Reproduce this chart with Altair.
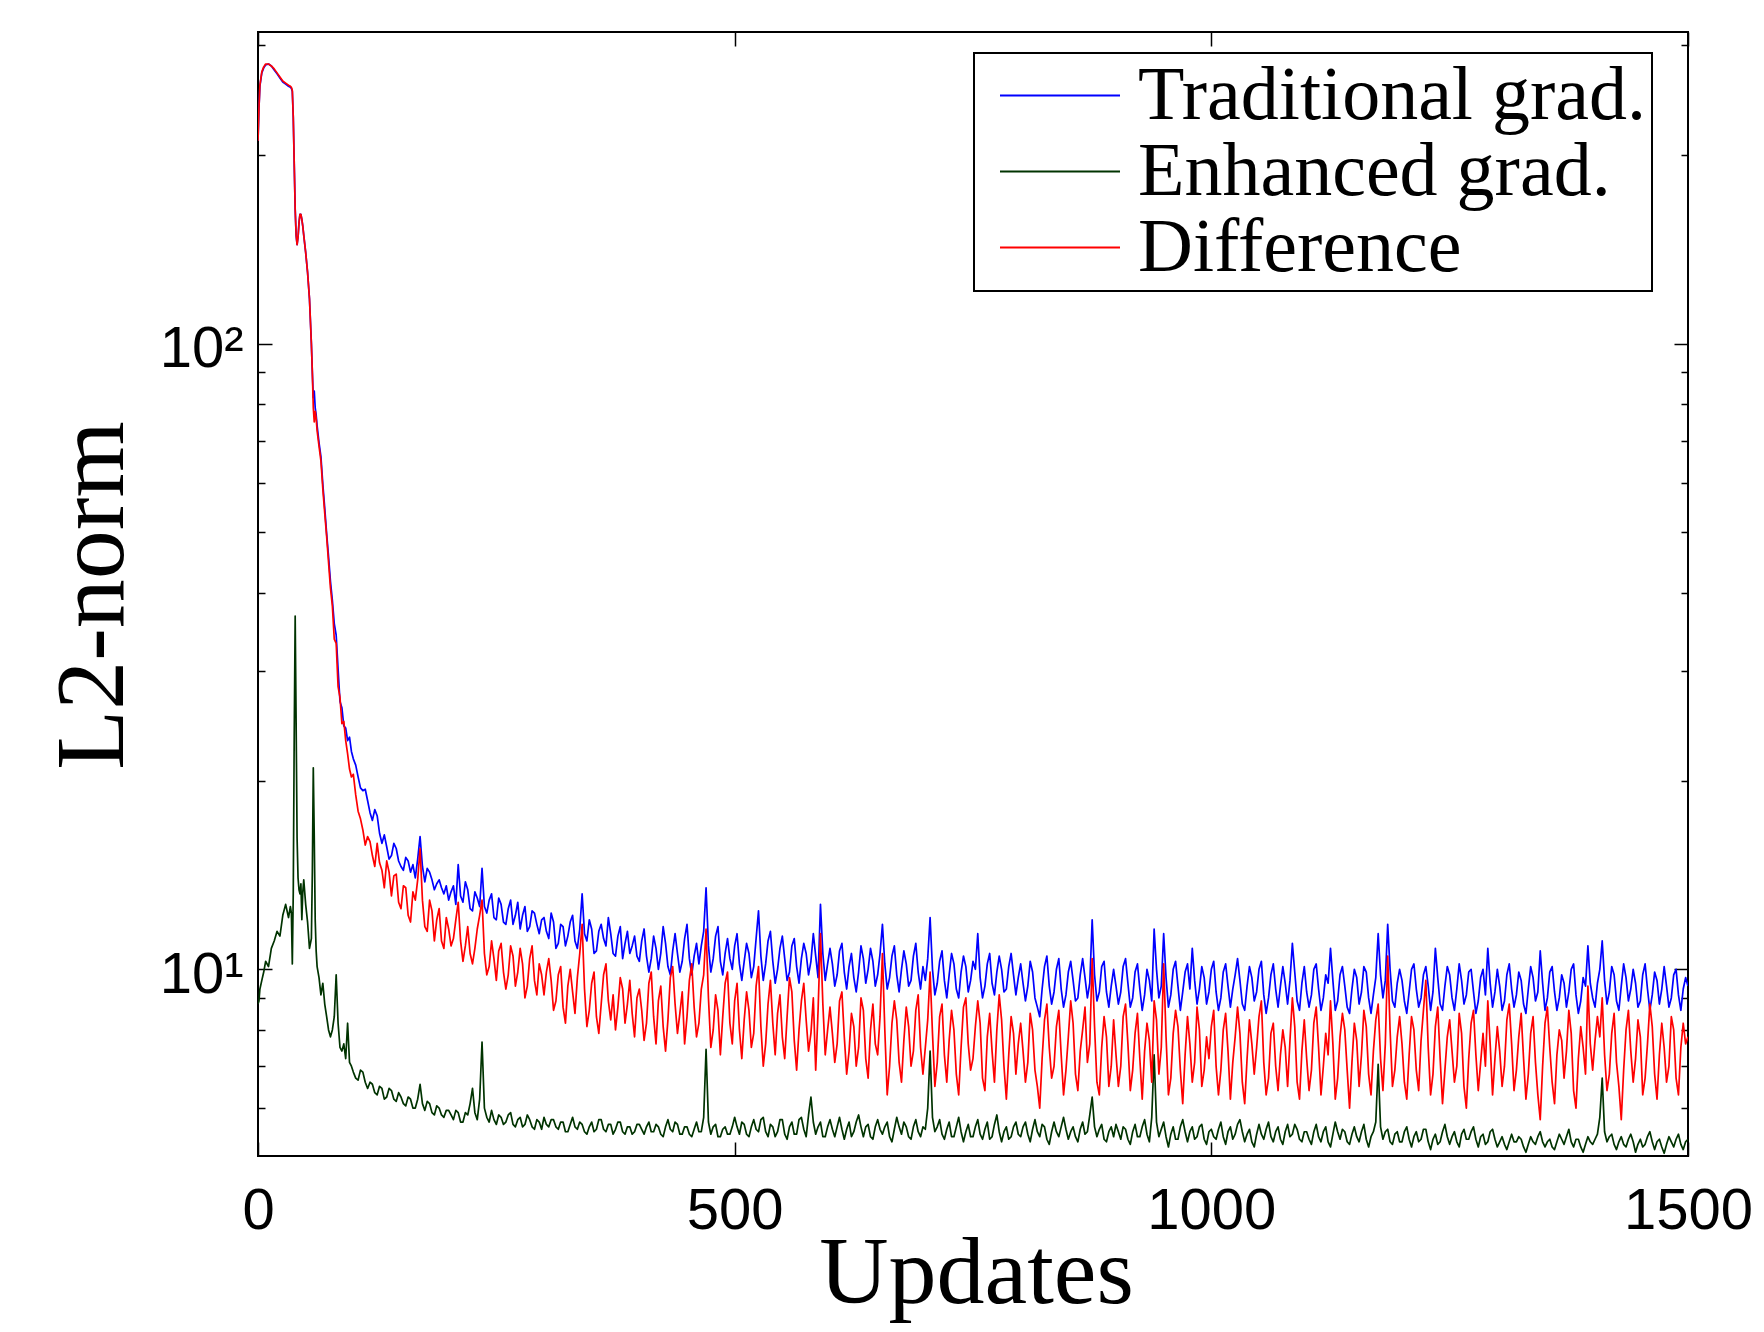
import altair as alt
import pandas as pd

W, H = 1430, 1124

SERIES = ["Traditional grad.", "Enhanced grad.", "Difference"]
COLORS = ["#0000ff", "#003300", "#ff0000"]

EARLY_UPDATES = [0, 1, 2, 4, 6, 8, 11, 14, 17, 20, 23, 26, 29, 32, 34, 35, 36, 37,
                 38, 39, 40, 41, 42, 43, 44, 45, 46, 47, 48, 50, 52, 54, 56, 57, 58, 59,
                 60, 61, 62, 64, 66, 68, 70, 72, 74, 76, 78, 80, 82, 84, 86, 88, 90, 92,
                 94, 96, 98]
# from update 100 on, one reading every 2.5 updates
LATE_UPDATES = [100 + 2.5 * i for i in range(561)]
UPDATES = EARLY_UPDATES + LATE_UPDATES

TRAD_EARLY = [211, 238, 258, 271, 276, 279, 280, 278, 274, 270, 266, 262, 260, 258, 257, 256, 253, 230,
              194, 164, 149, 144, 148, 156, 161, 161, 158, 154, 149, 140, 130, 118, 100, 90, 82, 84,
              79, 77, 74, 69.5, 66, 59.6, 54.6, 49.7, 45.7, 41.7, 38.9, 35.7, 34.2, 30.2, 26.8, 26.2, 24.5, 24.3,
              23.2, 23.5, 22.3]
TRAD_LATE = [
    21.7, 21.2, 20.3, 19.5, 19.3, 19.4, 18.6, 17.8, 17.3, 18.0, 17.6, 16.5, 15.9, 16.4, 15.7, 15.0, 15.2, 15.9, 15.6, 14.9,
    14.6, 14.4, 15.1, 14.9, 14.3, 14.7, 14.0, 15.0, 16.3, 14.6, 13.8, 14.5, 14.3, 13.9, 13.4, 13.7, 13.9, 13.5, 13.2, 13.6,
    12.9, 13.3, 13.6, 12.7, 14.7, 13.1, 12.8, 13.8, 13.4, 12.5, 12.4, 13.3, 13.0, 12.6, 14.5, 12.6, 12.3, 12.9, 13.2, 12.1,
    12.0, 13.0, 12.7, 11.9, 11.8, 12.5, 12.9, 11.8, 12.2, 12.8, 11.6, 12.2, 12.6, 11.5, 11.7, 12.4, 12.3, 11.8, 11.4, 12.0,
    12.1, 11.5, 11.2, 12.3, 11.9, 10.8, 11.0, 11.8, 11.7, 10.9, 11.3, 11.9, 12.2, 11.1, 10.8, 11.6, 13.2, 11.4, 11.1, 12.0,
    11.6, 10.6, 10.7, 11.5, 11.8, 11.2, 10.9, 12.1, 11.4, 10.6, 10.5, 11.3, 11.7, 10.4, 11.0, 11.5, 10.6, 10.9, 11.3, 10.5,
    10.3, 11.1, 11.6, 10.5, 9.9, 10.4, 11.3, 10.8, 10.0, 10.6, 11.7, 11.0, 10.1, 9.8, 10.7, 11.4, 10.6, 9.9, 10.3, 11.2,
    11.8, 10.4, 9.8, 10.5, 11.0, 10.2, 10.9, 11.5, 13.5, 10.9, 9.9, 10.4, 11.3, 11.7, 10.3, 9.8, 10.6, 11.2, 10.4, 10.0,
    10.9, 11.4, 10.2, 9.6, 10.3, 11.0, 10.6, 9.7, 10.1, 11.2, 12.4, 10.5, 9.6, 10.2, 11.1, 11.5, 10.3, 9.5, 10.0, 10.8,
    11.3, 10.4, 9.6, 9.9, 10.9, 11.2, 10.1, 9.5, 10.4, 11.0, 10.6, 9.8, 10.3, 11.4, 10.5, 9.7, 12.7, 10.6, 9.6, 10.2,
    10.8, 10.2, 9.4, 9.8, 10.7, 11.0, 9.9, 9.3, 10.1, 10.6, 9.7, 9.2, 9.9, 10.9, 10.4, 9.5, 10.0, 10.8, 10.3, 9.4,
    9.8, 10.6, 11.8, 10.2, 9.3, 9.7, 10.5, 10.9, 9.8, 9.2, 10.0, 10.7, 10.2, 9.4, 9.6, 10.5, 11.0, 9.9, 9.3, 10.1,
    9.6, 10.4, 12.1, 10.0, 9.1, 9.5, 10.3, 10.7, 9.6, 9.0, 9.8, 10.6, 10.2, 9.3, 9.0, 9.9, 10.5, 10.1, 9.2, 9.6,
    10.3, 10.0, 11.4, 9.7, 9.0, 9.4, 10.2, 10.6, 9.5, 9.1, 9.9, 10.5, 10.0, 9.2, 9.3, 10.1, 10.6, 9.8, 9.1, 9.7,
    10.2, 9.5, 8.9, 9.4, 10.3, 9.9, 9.0, 8.7, 8.4, 9.3, 10.1, 10.5, 9.4, 8.8, 9.2, 10.0, 10.4, 9.3, 8.7, 9.1,
    9.9, 10.3, 9.6, 8.9, 9.0, 9.8, 10.4, 9.7, 9.0, 9.5, 12.0, 9.8, 8.9, 9.2, 10.1, 10.3, 9.2, 8.7, 9.4, 10.0,
    9.4, 8.8, 9.2, 10.1, 10.4, 9.5, 8.7, 9.0, 9.9, 10.2, 9.3, 8.6, 9.1, 10.0, 9.6, 8.9, 11.6, 10.0, 9.0, 9.4,
    11.4, 9.7, 8.7, 9.1, 10.0, 10.3, 9.4, 8.6, 9.2, 9.9, 10.2, 9.3, 10.8, 9.6, 8.8, 9.3, 10.1, 9.7, 8.8, 9.2,
    10.0, 10.3, 9.2, 8.6, 9.0, 9.9, 10.2, 9.4, 8.7, 9.3, 9.8, 10.4, 9.6, 8.8, 8.6, 9.4, 10.1, 9.7, 8.9, 9.2,
    10.0, 10.3, 9.1, 8.5, 9.0, 9.8, 10.2, 9.3, 8.7, 9.4, 10.1, 9.5, 8.8, 9.6, 11.0, 9.9, 8.9, 8.6, 9.5, 10.1,
    9.2, 8.7, 9.1, 10.0, 10.2, 9.3, 8.6, 9.0, 9.8, 9.5, 10.8, 9.6, 8.6, 8.9, 9.8, 10.1, 9.4, 8.7, 8.5, 9.3,
    10.0, 9.7, 8.8, 9.2, 10.1, 9.9, 9.0, 8.5, 9.1, 9.7, 11.4, 9.8, 9.0, 9.6, 11.8, 10.0, 8.9, 8.7, 9.5, 10.0,
    9.6, 8.9, 8.5, 9.2, 10.0, 10.2, 9.3, 8.7, 9.0, 9.8, 10.1, 9.4, 8.6, 9.2, 10.8, 9.7, 8.8, 8.6, 9.4, 10.1,
    9.8, 9.0, 8.6, 9.3, 10.2, 9.6, 8.8, 9.1, 9.9, 10.0, 9.2, 8.5, 8.9, 9.7, 10.0, 9.1, 10.8, 9.5, 8.7, 9.2,
    10.0, 9.4, 8.6, 8.9, 9.8, 10.2, 9.3, 8.7, 9.1, 9.9, 9.6, 8.8, 8.5, 9.3, 10.1, 9.7, 8.9, 9.2, 10.7, 9.5,
    8.6, 9.0, 9.9, 10.1, 9.2, 8.6, 9.0, 9.8, 9.5, 8.7, 9.2, 10.0, 10.2, 9.1, 8.5, 8.9, 9.7, 9.4, 10.9, 9.5,
    9.0, 8.7, 9.5, 10.0, 11.1, 9.6, 8.8, 9.2, 10.1, 9.8, 8.9, 8.6, 9.4, 10.2, 9.7, 8.9, 9.3, 10.0, 9.5, 8.7,
    8.9, 9.8, 10.2, 9.3, 8.6, 9.1, 9.9, 9.6, 8.8, 9.3, 10.1, 9.4, 8.7, 9.0, 9.8, 10.0, 9.1, 8.6, 9.3, 9.7,
    9.4,
]

ENH_EARLY = [8.8, 8.9, 9.3, 9.6, 9.9, 10.3, 10.1, 10.8, 11.1, 11.5, 11.3, 12.2, 12.7, 12.1, 12.6, 12.3, 10.2, 13.3,
             23.7, 36.7, 24.7, 16.2, 14.0, 13.4, 13.2, 13.7, 12.0, 13.3, 13.9, 12.7, 11.9, 10.8, 11.2, 14.3, 21.0, 16.3,
             12.0, 10.7, 10.1, 9.7, 9.1, 9.5, 8.8, 8.4, 8.0, 7.8, 8.0, 8.4, 9.8, 8.2, 7.5, 7.4, 7.6, 7.2,
             8.2, 7.1, 7.0]
ENH_LATE = [
    6.85, 6.7, 6.65, 6.9, 6.85, 6.6, 6.45, 6.6, 6.55, 6.35, 6.3, 6.5, 6.45, 6.2, 6.25, 6.45, 6.4, 6.2, 6.15, 6.35,
    6.25, 6.1, 6.05, 6.25, 6.2, 6.0, 6.0, 6.2, 6.55, 6.1, 5.95, 6.15, 6.1, 5.9, 5.85, 6.05, 6.0, 5.85, 5.8, 5.95,
    5.95, 5.85, 5.75, 5.95, 5.9, 5.7, 5.7, 5.9, 5.85, 6.1, 6.45, 5.9, 5.75, 6.2, 7.65, 6.0, 5.8, 5.7, 5.95, 5.75,
    5.65, 5.85, 5.8, 5.65, 5.7, 5.85, 5.9, 5.65, 5.6, 5.75, 5.8, 5.6, 5.65, 5.85, 5.75, 5.6, 5.55, 5.75, 5.7, 5.55,
    5.8, 5.65, 5.6, 5.75, 5.75, 5.6, 5.55, 5.7, 5.7, 5.5, 5.5, 5.65, 5.8, 5.6, 5.55, 5.7, 5.65, 5.5, 5.45, 5.6,
    5.7, 5.5, 5.55, 5.75, 5.75, 5.55, 5.5, 5.65, 5.65, 5.45, 5.55, 5.7, 5.7, 5.5, 5.45, 5.6, 5.6, 5.45, 5.5, 5.65,
    5.65, 5.55, 5.45, 5.6, 5.7, 5.5, 5.5, 5.65, 5.6, 5.45, 5.4, 5.6, 5.75, 5.55, 5.5, 5.7, 5.65, 5.45, 5.45, 5.6,
    5.6, 5.45, 5.4, 5.55, 5.7, 5.5, 5.5, 5.8, 7.45, 5.7, 5.45, 5.6, 5.65, 5.4, 5.4, 5.55, 5.6, 5.45, 5.45, 5.6,
    5.8, 5.6, 5.45, 5.7, 5.65, 5.45, 5.4, 5.6, 5.75, 5.55, 5.5, 5.75, 5.8, 5.5, 5.4, 5.65, 5.6, 5.4, 5.5, 5.75,
    5.75, 5.45, 5.35, 5.6, 5.7, 5.45, 5.45, 5.75, 5.8, 5.55, 5.4, 5.85, 6.25, 5.7, 5.45, 5.6, 5.7, 5.4, 5.4, 5.6,
    5.75, 5.55, 5.4, 5.6, 5.8, 5.55, 5.35, 5.55, 5.7, 5.4, 5.5, 5.7, 5.85, 5.6, 5.4, 5.6, 5.65, 5.4, 5.35, 5.6,
    5.75, 5.55, 5.45, 5.6, 5.7, 5.4, 5.3, 5.55, 5.8, 5.6, 5.45, 5.7, 5.6, 5.4, 5.35, 5.6, 5.75, 5.5, 5.4, 5.6,
    5.55, 6.0, 7.4, 5.8, 5.5, 5.6, 5.75, 5.45, 5.35, 5.55, 5.7, 5.4, 5.4, 5.6, 5.8, 5.5, 5.3, 5.5, 5.65, 5.4,
    5.4, 5.6, 5.75, 5.45, 5.35, 5.55, 5.7, 5.35, 5.4, 5.65, 5.85, 5.5, 5.3, 5.5, 5.6, 5.35, 5.4, 5.6, 5.7, 5.45,
    5.4, 5.6, 5.7, 5.45, 5.3, 5.55, 5.75, 5.5, 5.4, 5.65, 5.6, 5.35, 5.25, 5.5, 5.7, 5.5, 5.4, 5.6, 5.8, 5.55,
    5.35, 5.5, 5.6, 5.4, 5.3, 5.55, 5.7, 5.45, 5.5, 5.85, 6.25, 5.6, 5.4, 5.55, 5.65, 5.35, 5.3, 5.5, 5.6, 5.4,
    5.65, 5.5, 5.35, 5.6, 5.55, 5.35, 5.25, 5.5, 5.65, 5.4, 5.4, 5.6, 5.75, 5.45, 5.3, 5.8, 7.3, 5.7, 5.4, 5.55,
    5.7, 5.4, 5.2, 5.45, 5.6, 5.35, 5.35, 5.6, 5.75, 5.5, 5.3, 5.5, 5.6, 5.35, 5.4, 5.6, 5.65, 5.35, 5.25, 5.5,
    5.55, 5.4, 5.35, 5.55, 5.7, 5.4, 5.25, 5.5, 5.6, 5.35, 5.45, 5.65, 5.75, 5.5, 5.3, 5.45, 5.55, 5.3, 5.2, 5.45,
    5.65, 5.45, 5.35, 5.55, 5.7, 5.4, 5.3, 5.5, 5.6, 5.35, 5.25, 5.5, 5.65, 5.4, 5.45, 5.65, 5.55, 5.35, 5.3, 5.5,
    5.5, 5.35, 5.25, 5.5, 5.65, 5.4, 5.3, 5.5, 5.6, 5.3, 5.2, 5.45, 5.7, 5.5, 5.35, 5.55, 5.5, 5.3, 5.25, 5.45,
    5.6, 5.4, 5.3, 5.5, 5.65, 5.35, 5.2, 5.4, 5.5, 5.7, 7.05, 5.6, 5.35, 5.5, 5.55, 5.3, 5.25, 5.45, 5.5, 5.3,
    5.3, 5.5, 5.6, 5.35, 5.2, 5.4, 5.5, 5.3, 5.35, 5.55, 5.55, 5.3, 5.15, 5.35, 5.45, 5.25, 5.3, 5.5, 5.65, 5.4,
    5.25, 5.4, 5.5, 5.3, 5.2, 5.45, 5.55, 5.35, 5.35, 5.5, 5.6, 5.35, 5.2, 5.4, 5.45, 5.25, 5.3, 5.5, 5.55, 5.35,
    5.2, 5.3, 5.4, 5.25, 5.15, 5.3, 5.45, 5.3, 5.3, 5.4, 5.35, 5.2, 5.1, 5.25, 5.4, 5.3, 5.25, 5.4, 5.5, 5.3,
    5.2, 5.3, 5.35, 5.2, 5.15, 5.3, 5.45, 5.35, 5.25, 5.4, 5.55, 5.3, 5.2, 5.35, 5.35, 5.2, 5.1, 5.25, 5.4, 5.3,
    5.25, 5.35, 5.45, 5.8, 6.7, 5.5, 5.3, 5.4, 5.45, 5.25, 5.15, 5.3, 5.4, 5.25, 5.2, 5.35, 5.45, 5.3, 5.1, 5.25,
    5.35, 5.2, 5.25, 5.4, 5.5, 5.3, 5.15, 5.3, 5.35, 5.2, 5.08, 5.25, 5.4, 5.3, 5.2, 5.35, 5.45, 5.25, 5.15, 5.3,
    5.35,
]

DIFF_EARLY = [211, 238, 259, 272, 277, 280, 280, 278, 275, 271, 267, 263, 261, 259, 258, 257, 254, 230,
              194, 164, 149, 144, 148, 156, 161, 161, 158, 154, 149, 140, 130, 118, 100, 90, 79, 75,
              78, 76, 72.6, 68.6, 65, 58.6, 53.6, 49.2, 44.7, 40.7, 38.1, 33.7, 33.2, 28.3, 27.2, 24.7, 24.9, 23.2,
              22.1, 20.9, 20.3]
DIFF_LATE = [
    20.5, 19.0, 17.9, 17.4, 16.7, 15.8, 16.3, 16.0, 15.2, 14.6, 15.9, 14.8, 14.4, 13.5, 14.9, 14.3, 13.1, 14.1, 14.2, 12.8,
    12.5, 13.6, 13.5, 12.2, 11.9, 13.3, 12.9, 13.9, 15.6, 12.9, 11.7, 11.5, 12.9, 12.4, 11.1, 12.0, 12.5, 11.1, 10.8, 12.1,
    11.6, 10.9, 11.2, 12.0, 12.8, 11.1, 10.3, 10.9, 11.7, 10.6, 10.2, 10.8, 11.6, 12.2, 12.9, 10.6, 9.8, 10.1, 11.1, 10.4,
    9.6, 10.7, 11.0, 9.9, 9.3, 9.8, 10.9, 10.5, 9.4, 9.9, 10.8, 10.2, 9.0, 9.4, 10.4, 10.9, 9.6, 9.1, 10.2, 9.8,
    9.1, 9.9, 10.4, 9.6, 8.6, 8.9, 9.8, 10.1, 8.7, 8.2, 9.4, 10.0, 9.2, 8.5, 9.7, 10.6, 11.8, 9.3, 8.1, 8.6,
    9.5, 9.9, 8.4, 7.9, 8.8, 9.8, 10.2, 8.9, 8.3, 9.1, 8.0, 8.7, 9.7, 9.3, 8.2, 8.8, 9.6, 8.5, 7.8, 9.0,
    9.3, 8.6, 7.7, 8.2, 9.5, 9.9, 8.4, 7.6, 8.9, 9.4, 8.1, 7.4, 8.3, 9.7, 10.1, 8.8, 7.9, 8.5, 9.2, 7.6,
    8.4, 9.6, 10.2, 8.7, 7.8, 8.2, 9.3, 9.8, 11.6, 9.0, 7.5, 8.0, 9.1, 8.6, 7.3, 8.4, 9.5, 9.9, 8.2, 7.6,
    8.9, 9.5, 8.0, 7.2, 8.3, 9.2, 8.6, 7.5, 7.9, 9.4, 10.1, 8.1, 7.0, 7.6, 8.8, 9.6, 8.2, 7.3, 8.5, 9.1,
    7.8, 7.2, 8.4, 9.7, 9.2, 7.7, 6.9, 8.0, 8.9, 9.5, 8.3, 7.4, 7.9, 9.0, 6.9, 8.6, 11.4, 8.8, 7.3, 8.0,
    8.7, 7.9, 7.1, 7.6, 8.9, 9.2, 7.8, 6.8, 7.4, 8.5, 8.1, 7.0, 7.5, 9.0, 8.6, 7.2, 6.7, 8.0, 8.8, 7.6,
    7.3, 8.4, 10.6, 8.0, 6.3, 7.0, 8.2, 8.9, 8.3, 7.1, 6.6, 7.7, 8.7, 8.1, 7.0, 7.4, 8.6, 9.1, 7.5, 6.8,
    7.5, 8.3, 9.9, 7.9, 6.5, 7.1, 8.4, 8.8, 7.3, 6.6, 7.7, 8.6, 8.0, 6.8, 6.3, 7.5, 8.7, 9.0, 7.6, 6.9,
    7.2, 8.1, 8.9, 8.2, 6.7, 6.4, 7.8, 8.5, 7.4, 6.6, 8.0, 9.1, 8.3, 7.0, 6.2, 7.3, 8.4, 7.9, 6.8, 7.6,
    8.2, 7.4, 6.6, 7.1, 8.5, 8.0, 6.9, 6.5, 6.0, 7.2, 8.3, 8.8, 7.5, 6.7, 7.0, 8.1, 8.6, 7.3, 6.3, 6.9,
    7.8, 8.9, 8.2, 6.8, 6.4, 7.4, 8.0, 8.7, 7.1, 7.6, 10.4, 8.1, 6.6, 6.3, 7.5, 8.4, 7.8, 6.5, 7.0, 8.3,
    7.3, 6.5, 7.0, 8.4, 8.8, 7.6, 6.4, 6.9, 7.9, 8.5, 7.2, 6.2, 7.4, 8.2, 7.7, 6.6, 8.9, 8.3, 6.8, 7.5,
    10.2, 7.8, 6.3, 6.7, 7.9, 8.6, 8.1, 6.9, 6.1, 7.3, 8.4, 7.6, 6.6, 7.1, 8.7, 8.0, 6.5, 6.9, 7.8, 7.2,
    8.1, 8.6, 7.0, 6.3, 6.9, 8.0, 8.5, 7.4, 6.2, 7.1, 7.8, 8.7, 7.9, 6.6, 6.1, 7.2, 8.3, 7.6, 6.8, 7.5,
    8.4, 8.9, 7.1, 6.3, 6.7, 7.9, 8.2, 7.0, 6.4, 7.3, 8.0, 7.5, 6.5, 7.7, 9.0, 8.1, 6.6, 6.2, 7.4, 8.3,
    7.2, 6.4, 6.9, 8.2, 8.7, 7.5, 6.3, 7.0, 7.9, 7.3, 8.9, 7.6, 6.2, 6.7, 7.8, 8.5, 8.0, 6.9, 6.0, 7.1,
    8.2, 7.7, 6.5, 7.3, 8.6, 8.1, 6.8, 6.3, 7.4, 8.3, 8.8, 7.2, 6.4, 7.6, 10.5, 8.0, 6.5, 6.9, 7.8, 8.4,
    7.6, 6.6, 6.2, 7.3, 8.4, 8.0, 6.9, 6.4, 7.7, 8.6, 9.6, 7.5, 6.3, 6.8, 8.1, 8.7, 7.2, 6.1, 6.9, 7.8,
    8.3, 7.4, 6.6, 7.0, 8.5, 7.9, 6.5, 6.0, 7.2, 8.2, 8.6, 7.3, 6.4, 7.1, 7.9, 7.0, 8.9, 7.6, 6.3, 7.2,
    8.1, 7.4, 6.5, 7.0, 8.3, 8.8, 7.6, 6.4, 6.9, 7.8, 8.5, 7.2, 6.2, 6.8, 7.9, 8.4, 7.1, 6.3, 5.75, 7.0,
    8.2, 8.7, 7.5, 6.6, 6.1, 7.3, 8.0, 7.7, 6.7, 7.4, 8.6, 7.9, 6.4, 6.0, 7.2, 8.1, 7.5, 6.8, 9.4, 7.6,
    6.9, 7.7, 8.4, 7.8, 9.0, 7.3, 6.4, 6.8, 7.9, 8.5, 7.1, 6.5, 5.75, 6.9, 8.0, 8.6, 7.4, 6.6, 7.2, 8.3,
    7.8, 6.3, 6.7, 7.6, 8.8, 8.1, 6.8, 6.2, 7.3, 8.2, 7.5, 6.6, 7.0, 8.4, 8.0, 6.7, 6.3, 7.5, 8.2, 7.6,
    7.8,
]

X_TICKS = [0, 500, 1000, 1500]
Y_LABEL_TICKS = [10, 100]
Y_TICKS = [6, 7, 8, 9, 10, 20, 30, 40, 50, 60, 70, 80, 90, 100, 200, 300]

records = []
for name, vals in zip(SERIES, [TRAD_EARLY + TRAD_LATE, ENH_EARLY + ENH_LATE, DIFF_EARLY + DIFF_LATE]):
    assert len(vals) == len(UPDATES), (name, len(vals), len(UPDATES))
    for u, v in zip(UPDATES, vals):
        records.append({"updates": u, "l2": v, "series": name})
df = pd.DataFrame(records)

x_scale = alt.Scale(domain=[0, 1500], nice=False, zero=False)
y_scale = alt.Scale(type="log", domain=[5.03, 315], nice=False)

SANS = "Liberation Sans"
SERIF = "Liberation Serif"

lines = alt.Chart(df).mark_line(strokeWidth=1.7, strokeJoin="round", clip=True).encode(
    x=alt.X("updates:Q", scale=x_scale, axis=alt.Axis(
        orient="bottom", values=X_TICKS, format="d", ticks=False, tickSize=0, domain=False, grid=False,
        labelFont=SANS, labelFontSize=58, labelColor="black", labelPadding=72,
        labelBaseline="alphabetic", labelFlush=False,
        title="Updates", titleFont=SERIF, titleFontSize=96, titleFontWeight="normal",
        titleColor="black", titleX=718, titleY=146, titleAlign="center",
        titleBaseline="alphabetic", titleAngle=0)),
    y=alt.Y("l2:Q", scale=y_scale, axis=alt.Axis(
        orient="left", values=Y_LABEL_TICKS, ticks=False, tickSize=0, domain=False, grid=False,
        labelExpr="datum.value == 100 ? '10²' : '10¹'",
        labelFont=SANS, labelFontSize=58, labelColor="black", labelPadding=15,
        labelBaseline="alphabetic", labelOffset=23, labelAlign="right",
        title="L2-norm", titleFont=SERIF, titleFontSize=98, titleFontWeight="normal",
        titleColor="black", titleX=-136, titleY=563, titleAlign="center",
        titleBaseline="alphabetic", titleAngle=270)),
    color=alt.Color("series:N", scale=alt.Scale(domain=SERIES, range=COLORS), legend=alt.Legend(
        title=None, orient="none", legendX=716, legendY=21, direction="vertical",
        symbolType="stroke", symbolSize=14400, symbolStrokeWidth=2,
        labelFont=SERIF, labelFontSize=76, labelColor="black", labelLimit=2000,
        labelOffset=17, symbolOffset=20, padding=5, rowPadding=-2, clipHeight=75,
        strokeColor="black", fillColor="white")),
)

major_test = "datum.value === 10 || datum.value === 100"
tick_size = {"condition": {"test": major_test, "value": 14}, "value": 7}

ytick_df = pd.DataFrame({"yt": Y_TICKS})
xtick_df = pd.DataFrame({"xt": X_TICKS})


def ytick_layer(orient):
    return alt.Chart(ytick_df).mark_point(opacity=0).encode(
        y=alt.Y("yt:Q", scale=y_scale, axis=alt.Axis(
            orient=orient, offset=-W, values=Y_TICKS, labels=False, domain=False, grid=False,
            ticks=True, tickSize=tick_size, tickColor="black", tickWidth=1.5, title=None)),
    )


def xtick_layer(orient):
    return alt.Chart(xtick_df).mark_point(opacity=0).encode(
        x=alt.X("xt:Q", scale=x_scale, axis=alt.Axis(
            orient=orient, offset=-H, values=X_TICKS, labels=False, domain=False, grid=False,
            ticks=True, tickSize=14, tickColor="black", tickWidth=1.5, title=None)),
    )


chart = alt.layer(
    lines,
    ytick_layer("right"),
    ytick_layer("left"),
    xtick_layer("top"),
    xtick_layer("bottom"),
).resolve_axis(x="independent", y="independent").properties(
    width=W, height=H,
    autosize=alt.AutoSizeParams(type="none"),
    padding={"left": 250, "top": 24, "right": 68, "bottom": 168},
).configure(
    font=SANS, background="white"
).configure_view(
    stroke="black", strokeWidth=2
).configure_legend(
    strokeWidth=2
)

chart.save("out.html", embed_options={"renderer": "svg", "actions": False})
